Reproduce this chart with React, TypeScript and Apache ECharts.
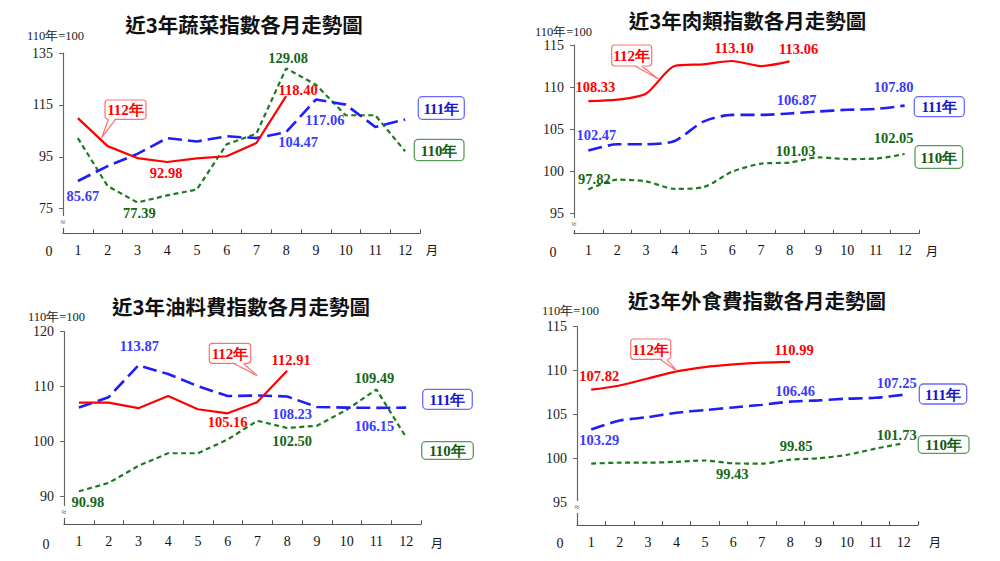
import React, { useEffect, useRef } from "react";
import * as echarts from "echarts";

const MONTHS = ["1", "2", "3", "4", "5", "6", "7", "8", "9", "10", "11", "12"];

// 蔬菜
const VEG_112 = [109.9, 99.1, 94.5, 92.98, 94.4, 95.2, 100.3, 118.4];
const VEG_111 = [85.67, 91.4, 96.1, 102.2, 100.9, 102.9, 102.2, 104.47, 117.06, 115.1, 106.5, 109.4];
const VEG_110 = [102.2, 83.7, 77.39, 80.1, 82.4, 99.8, 103.9, 129.08, 122.8, 111.0, 111.0, 97.1];
const VEG_TICKS = [75, 95, 115, 135];

// 肉類
const MEAT_112 = [108.33, 108.5, 109.2, 112.5, 112.7, 113.1, 112.5, 113.06];
const MEAT_111 = [102.47, 103.2, 103.2, 103.6, 105.9, 106.7, 106.7, 106.87, 107.1, 107.3, 107.4, 107.8];
const MEAT_110 = [97.82, 99.0, 98.8, 97.9, 98.1, 99.95, 100.9, 101.03, 101.65, 101.45, 101.5, 102.05];
const MEAT_TICKS = [95, 100, 105, 110, 115];

// 油料費
const OIL_112 = [107.1, 107.1, 106.1, 108.3, 105.9, 105.16, 107.2, 112.91];
const OIL_111 = [106.2, 108.1, 113.87, 112.3, 110.1, 108.3, 108.4, 108.23, 106.3, 106.2, 106.15, 106.2];
const OIL_110 = [90.98, 92.5, 95.6, 97.9, 97.9, 100.4, 103.8, 102.5, 102.9, 105.8, 109.49, 100.8];
const OIL_TICKS = [90, 100, 110, 120];

// 外食費
const FOOD_112 = [107.82, 108.3, 109.1, 109.9, 110.4, 110.7, 110.9, 110.99];
const FOOD_111 = [103.29, 104.3, 104.7, 105.2, 105.5, 105.8, 106.1, 106.46, 106.6, 106.8, 106.9, 107.25];
const FOOD_110 = [99.4, 99.5, 99.5, 99.6, 99.75, 99.43, 99.4, 99.85, 100.0, 100.4, 101.1, 101.73];
const FOOD_TICKS = [95, 100, 105, 110, 115];

const TITLES = [
  "近3年蔬菜指數各月走勢圖",
  "近3年肉類指數各月走勢圖",
  "近3年油料費指數各月走勢圖",
  "近3年外食費指數各月走勢圖",
];
const LEGEND_112 = "112年";
const LEGEND_111 = "111年";
const LEGEND_110 = "110年";
const BASE_NOTE = "110年=100";

const RED = "#FF0000";
const BLUE = "#1E1EF5";
const BLUE_TXT = "#3A3AFF";
const GREEN = "#1E7A1E";
const GREEN_TXT = "#176617";
const SERIF = "'Liberation Serif', 'Times New Roman', serif";
const CJK = "'Noto Sans CJK TC', 'Noto Sans CJK SC', sans-serif";

type Off = Record<number, [number, number]>;

const PANELS = [
  {
    grid: { left: 63, top: 53, width: 357, height: 180.3 },
    min: 65.5, max: 135, ticks: VEG_TICKS, smooth: false,
    data: [VEG_110, VEG_111, VEG_112],
    labels: [
      { 2: [2, 11], 7: [2, -10] } as Off,
      { 0: [5, 15], 7: [12, 10], 8: [9, 20] } as Off,
      { 3: [-1, 11], 7: [12, -6] } as Off,
    ],
    title: [244, 24], note: [27, 36], zero: [49, 251], month: [432, 249], brk: [63, 222],
    callout: { box: [105, 100, 41, 19.3], base: [108.5, 115.5], tip: [101.7, 137.7] },
    b111: [418.3, 96.7, 46, 22.6], b110: [414.3, 139.3, 49.7, 21.4],
  },
  {
    grid: { left: 574, top: 45, width: 345, height: 188.7 },
    min: 92.58, max: 115, ticks: MEAT_TICKS, smooth: 0.25,
    data: [MEAT_110, MEAT_111, MEAT_112],
    labels: [
      { 0: [6, -11], 7: [6, -12], 11: [-11, -16] } as Off,
      { 0: [8, -15], 7: [7, -13], 11: [-11, -19] } as Off,
      { 0: [7, -14], 5: [2, -13], 7: [9, -12] } as Off,
    ],
    title: [747.5, 20], note: [535, 32], zero: [553, 252], month: [932, 250], brk: [574, 224],
    callout: { box: [611.7, 45, 40, 21], base: [635, 641.7], tip: [658.3, 79] },
    b111: [914.3, 96.7, 50, 20], b110: [915, 145.7, 47.7, 22.6],
  },
  {
    grid: { left: 64, top: 331.7, width: 357, height: 192.5 },
    min: 85, max: 120, ticks: OIL_TICKS, smooth: false,
    data: [OIL_110, OIL_111, OIL_112],
    labels: [
      { 0: [9, 11], 7: [5, 13], 10: [-2, -12] } as Off,
      { 2: [1, -19], 7: [5, 18], 10: [-2, 18] } as Off,
      { 5: [0, 9], 7: [4, -11] } as Off,
    ],
    title: [241, 306], note: [28, 317], zero: [46, 544], month: [437, 542], brk: [64, 512],
    callout: { box: [209.3, 343.3, 41.4, 20], base: [233.3, 243.3], tip: [257.3, 375.7] },
    b111: [422.7, 389.3, 49.6, 20], b110: [421.7, 441.7, 51.6, 17.6],
  },
  {
    grid: { left: 577, top: 326.7, width: 341, height: 198.3 },
    min: 92.4, max: 115, ticks: FOOD_TICKS, smooth: 0.25,
    data: [FOOD_110, FOOD_111, FOOD_112],
    labels: [
      { 5: [-1, 11], 7: [6, -14], 11: [-7, -8] } as Off,
      { 0: [8, 11], 7: [5, -11], 11: [-7, -12] } as Off,
      { 0: [8, -14], 7: [4, -12] } as Off,
    ],
    title: [757, 300], note: [542, 311], zero: [560, 543], month: [935, 541], brk: [577, 507],
    callout: { box: [630.7, 339, 40, 20.3], base: [660, 666.7], tip: [676.7, 370.7] },
    b111: [919.3, 384, 47.4, 20], b110: [918.3, 435.7, 50.7, 17.6],
  },
];

const STYLES = [
  { color: GREEN, txt: GREEN_TXT, type: [5, 3.5] as any, width: 2.2 },
  { color: BLUE, txt: BLUE_TXT, type: [14, 6] as any, width: 2.6 },
  { color: RED, txt: RED, type: "solid" as any, width: 2.2 },
];

function buildOption() {
  const grid: any[] = [];
  const xAxis: any[] = [];
  const yAxis: any[] = [];
  const series: any[] = [];
  const graphic: any[] = [];

  PANELS.forEach((p, pi) => {
    grid.push({ ...p.grid, containLabel: false });
    xAxis.push({
      type: "category",
      gridIndex: pi,
      data: MONTHS,
      boundaryGap: true,
      axisLine: { lineStyle: { color: "#555", width: 1.2 } },
      axisTick: { show: true, inside: true, length: 4, alignWithLabel: false, interval: 0, lineStyle: { color: "#555" } },
      axisLabel: { interval: 0, fontSize: 14, margin: 10, color: "#111", fontFamily: SERIF },
      splitLine: { show: false },
    });
    yAxis.push({
      type: "value",
      gridIndex: pi,
      min: p.min,
      max: p.max,
      axisLine: { show: true, lineStyle: { color: "#666", width: 1.2 } },
      axisTick: { show: true, length: 4, customValues: p.ticks, lineStyle: { color: "#666" } },
      axisLabel: { customValues: p.ticks, fontSize: 14, margin: 10, color: "#222", fontFamily: SERIF },
      splitLine: { show: false },
    });
    p.data.forEach((vals, si) => {
      const st = STYLES[si];
      const offs = p.labels[si];
      series.push({
        type: "line",
        xAxisIndex: pi,
        yAxisIndex: pi,
        smooth: p.smooth,
        symbol: "circle",
        symbolSize: 0.01,
        showSymbol: true,
        silent: true,
        z: 2 + si,
        lineStyle: { color: st.color, width: st.width, type: st.type },
        itemStyle: { color: st.color },
        label: { show: false },
        data: vals.map((v, i) =>
          offs[i]
            ? {
                value: v,
                label: {
                  show: true,
                  position: "inside",
                  offset: offs[i],
                  formatter: () => v.toFixed(2),
                  color: st.txt,
                  fontSize: 14.5,
                  fontWeight: "bold",
                  fontFamily: SERIF,
                },
              }
            : v
        ),
      });
    });

    // title
    graphic.push({
      type: "text", x: p.title[0], y: p.title[1],
      style: { text: TITLES[pi], fontSize: 20.5, fontWeight: "bold", fontFamily: CJK, fill: "#111", align: "center", verticalAlign: "middle" },
    });
    // base note
    graphic.push({
      type: "text", x: p.note[0], y: p.note[1],
      style: { text: BASE_NOTE, fontSize: 12.5, fontFamily: SERIF, fill: "#222", align: "left", verticalAlign: "middle" },
    });
    graphic.push({
      type: "text", x: p.zero[0], y: p.zero[1],
      style: { text: "0", fontSize: 14, fontFamily: SERIF, fill: "#111", align: "center", verticalAlign: "middle" },
    });
    graphic.push({
      type: "text", x: p.month[0], y: p.month[1],
      style: { text: "月", fontSize: 12, fontFamily: CJK, fill: "#111", align: "center", verticalAlign: "middle" },
    });
    // axis break
    graphic.push({
      type: "rect", shape: { x: p.brk[0] - 4, y: p.brk[1] - 6, width: 8, height: 12 },
      style: { fill: "#fff" }, z: 50,
    });
    graphic.push({
      type: "text", x: p.brk[0], y: p.brk[1], z: 51,
      style: { text: "≈", fontSize: 9, fontFamily: SERIF, fill: "#444", align: "center", verticalAlign: "middle" },
    });
    // callout 112
    const c = p.callout;
    const [bx, by, bw, bh] = c.box;
    const yb = by + bh;
    graphic.push({
      type: "rect", z: 60, shape: { x: bx, y: by, width: bw, height: bh, r: 3 },
      style: { fill: "#fff", stroke: "#FF7070", lineWidth: 1.2 },
    });
    graphic.push({
      type: "polygon", z: 61,
      shape: { points: [[c.base[0], yb - 1.5], [c.tip[0], c.tip[1]], [c.base[1], yb - 1.5]] },
      style: { fill: "#fff" },
    });
    graphic.push({
      type: "polyline", z: 62,
      shape: { points: [[c.base[0], yb], [c.tip[0], c.tip[1]], [c.base[1], yb]] },
      style: { stroke: "#FF7070", lineWidth: 1.2, fill: "none" },
    });
    graphic.push({
      type: "text", z: 63, x: bx + bw / 2, y: by + bh / 2 + 0.5,
      style: { text: LEGEND_112, fontSize: 15, fontWeight: "bold", fontFamily: SERIF, fill: RED, align: "center", verticalAlign: "middle" },
    });
    // legend boxes
    const boxes: [number[], string, string, string][] = [
      [p.b111, LEGEND_111, "#6A6AFF", "#1515D0"],
      [p.b110, LEGEND_110, "#5A9A5A", "#145A14"],
    ];
    boxes.forEach(([b, t, sc, tc]) => {
      graphic.push({
        type: "rect", z: 60, shape: { x: b[0], y: b[1], width: b[2], height: b[3], r: 4 },
        style: { fill: "#fff", stroke: sc, lineWidth: 1.3 },
      });
      graphic.push({
        type: "text", z: 61, x: b[0] + b[2] / 2, y: b[1] + b[3] / 2 + 0.5,
        style: { text: t, fontSize: 15, fontWeight: "bold", fontFamily: SERIF, fill: tc, align: "center", verticalAlign: "middle" },
      });
    });
  });

  return { animation: false, backgroundColor: "#fff", grid, xAxis, yAxis, series, graphic };
}

export default function App() {
  const ref = useRef<HTMLDivElement>(null);
  useEffect(() => {
    if (!ref.current) return;
    const chart = echarts.init(ref.current, undefined, { renderer: "svg" });
    chart.setOption(buildOption() as any);
    return () => chart.dispose();
  }, []);
  return (
    <div
      ref={ref}
      style={{ position: "fixed", left: 0, top: 0, width: 1000, height: 561, background: "#fff" }}
    />
  );
}
